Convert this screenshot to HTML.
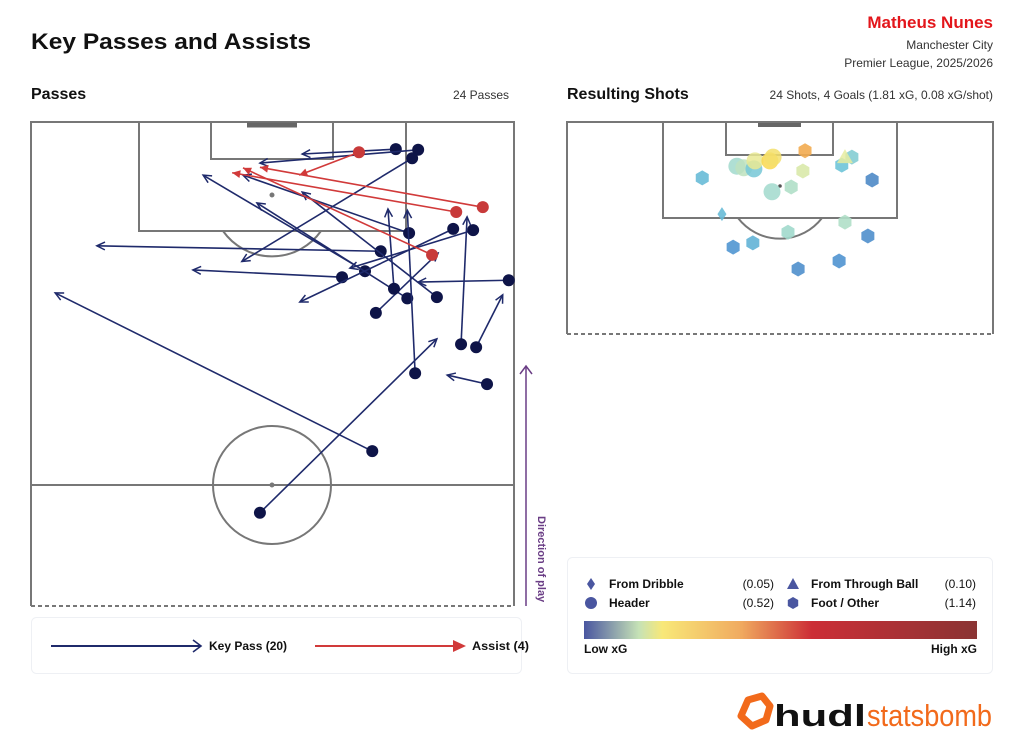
<!DOCTYPE html>
<html><head><meta charset="utf-8"><style>
body{margin:0;background:#fff;}
svg{display:block;font-family:"Liberation Sans",sans-serif;}
</style></head><body>
<svg id="root" width="1024" height="742" viewBox="0 0 1024 742" xmlns="http://www.w3.org/2000/svg">
<text x="31" y="49" font-size="22" font-weight="bold" fill="#111" textLength="280" lengthAdjust="spacingAndGlyphs">Key Passes and Assists</text>
<text x="993" y="28" font-size="17" font-weight="bold" fill="#e3161b" text-anchor="end">Matheus Nunes</text>
<text x="993" y="49" font-size="12" fill="#333" text-anchor="end">Manchester City</text>
<text x="993" y="67" font-size="12" fill="#333" text-anchor="end">Premier League, 2025/2026</text>
<text x="31" y="99" font-size="16" font-weight="bold" fill="#111">Passes</text>
<text x="509" y="99" font-size="12" fill="#333" text-anchor="end">24 Passes</text>
<text x="567" y="99" font-size="16" font-weight="bold" fill="#111">Resulting Shots</text>
<text x="993" y="99" font-size="12" fill="#333" text-anchor="end">24 Shots, 4 Goals (1.81 xG, 0.08 xG/shot)</text>

<g id="passPitch" fill="none" stroke="#777" stroke-width="2">
<path d="M31 606 L31 122 L514 122 L514 606" />
<line x1="31" y1="606" x2="514" y2="606" stroke-dasharray="4 3"/>
<rect x="139" y="122" width="267" height="109"/>
<rect x="211" y="122" width="122" height="37"/>
<line x1="247" y1="125" x2="297" y2="125" stroke="#666" stroke-width="5"/>
<path d="M223 231 A60 60 0 0 0 321 231"/>
<line x1="31" y1="485" x2="514" y2="485"/>
<circle cx="272" cy="485" r="59"/>
<circle cx="272" cy="485" r="1.5" fill="#777"/>
<circle cx="272" cy="195" r="1.5" fill="#777"/>
</g>
<g id="passes"></g>

<g>
<line x1="526" y1="606" x2="526" y2="366" stroke="#6a3d85" stroke-width="1.5"/>
<path d="M520 374 L526 366 L532 374" fill="none" stroke="#6a3d85" stroke-width="1.5"/>
<text transform="translate(538,516) rotate(90)" font-size="11" font-weight="bold" fill="#6a3d85">Direction of play</text>
</g>

<g>
<rect x="31.5" y="617.5" width="490" height="56" rx="5" fill="#fff" stroke="#eef0f4"/>
<line x1="51" y1="646" x2="201" y2="646" stroke="#1f2a6b" stroke-width="2"/>
<path d="M193 640 L201 646 L193 652" fill="none" stroke="#1f2a6b" stroke-width="1.6"/>
<text x="209" y="650" font-size="12" font-weight="bold" fill="#111">Key Pass (20)</text>
<line x1="315" y1="646" x2="458" y2="646" stroke="#d13a3a" stroke-width="2"/>
<path d="M453 640 L466 646 L453 652 Z" fill="#d13a3a"/>
<text x="472" y="650" font-size="12" font-weight="bold" fill="#111" textLength="57" lengthAdjust="spacingAndGlyphs">Assist (4)</text>
</g>

<g id="shotPitch" fill="none" stroke="#777" stroke-width="2">
<path d="M567 334 L567 122 L993 122 L993 334"/>
<line x1="567" y1="334" x2="993" y2="334" stroke-dasharray="4 3"/>
<rect x="663" y="122" width="234" height="96"/>
<rect x="726" y="122" width="107" height="33"/>
<line x1="758" y1="125" x2="801" y2="125" stroke="#666" stroke-width="4"/>
<path d="M738 218 A53 53 0 0 0 822 218"/>
<circle cx="780" cy="186" r="1.8" fill="#555" stroke="none"/>
</g>
<g id="shots"></g>

<g>
<defs><linearGradient id="xg" x1="0" x2="1">
<stop offset="0" stop-color="#4a56a0"/><stop offset="0.14" stop-color="#c6e2b6"/><stop offset="0.2" stop-color="#f8e878"/><stop offset="0.4" stop-color="#f0aa60"/><stop offset="0.58" stop-color="#cc2e36"/><stop offset="1" stop-color="#8a3434"/>
</linearGradient></defs>
<rect x="567.5" y="557.5" width="425" height="116" rx="5" fill="#fff" stroke="#eef0f4"/>
<path d="M591 578 L595 584 L591 590 L587 584 Z" fill="#4a56a0"/>
<text x="609" y="588" font-size="12" font-weight="bold" fill="#111">From Dribble</text>
<text x="774" y="588" font-size="12" fill="#111" text-anchor="end">(0.05)</text>
<path d="M793 578 L799 589 L787 589 Z" fill="#4a56a0"/>
<text x="811" y="588" font-size="12" font-weight="bold" fill="#111">From Through Ball</text>
<text x="976" y="588" font-size="12" fill="#111" text-anchor="end">(0.10)</text>
<circle cx="591" cy="603" r="6" fill="#4a56a0"/>
<text x="609" y="607" font-size="12" font-weight="bold" fill="#111">Header</text>
<text x="774" y="607" font-size="12" fill="#111" text-anchor="end">(0.52)</text>
<path d="M793 597 L798.2 600 L798.2 606 L793 609 L787.8 606 L787.8 600 Z" fill="#4a56a0"/>
<text x="811" y="607" font-size="12" font-weight="bold" fill="#111">Foot / Other</text>
<text x="976" y="607" font-size="12" fill="#111" text-anchor="end">(1.14)</text>
<rect x="584" y="621" width="393" height="18" fill="url(#xg)"/>
<text x="584" y="653" font-size="12" font-weight="bold" fill="#111">Low xG</text>
<text x="977" y="653" font-size="12" font-weight="bold" fill="#111" text-anchor="end">High xG</text>
</g>

<g>
<path d="M748 700 L762 696 L770 706 L766 720 L752 726 L741 716 Z" fill="none" stroke="#f26a1b" stroke-width="7" stroke-linejoin="round"/>
<text x="774" y="726" font-size="31" font-weight="bold" fill="#111" textLength="92" lengthAdjust="spacingAndGlyphs">hudl</text>
<text x="867" y="726" font-size="31" fill="#f26a1b" textLength="125" lengthAdjust="spacingAndGlyphs">statsbomb</text>
</g>
</svg>
<script>
// StatsBomb coordinates: x = length (0-120, attacking up), y = width (0-80)
const kpStartX=[115.5,115.4,114.0,101.6,98.6,94.3,95.3,90.8,91.0,102.3,102.1,93.8,88.4,92.4,83.2,82.7,78.4,55.3,65.5,76.6];
const kpStartY=[60.4,64.1,63.1,62.6,57.9,51.5,55.3,62.3,67.2,69.9,73.2,79.1,57.1,60.1,71.2,73.7,63.6,37.9,56.5,75.5];
const kpEndX=[114.7,113.2,96.9,111.2,99.5,95.5,111.2,106.6,108.4,90.2,95.8,93.5,98.3,105.6,104.3,91.4,105.4,84.1,91.7,78.1];
const kpEndY=[44.9,37.9,34.9,35.1,10.9,26.8,28.5,37.4,44.9,44.5,52.8,64.1,67.4,59.1,72.2,78.1,62.3,67.2,4.0,68.9];
const asStartX=[115.0,105.9,105.1,98.0];
const asStartY=[54.3,74.8,70.4,66.4];
const asEndX=[111.2,112.5,111.6,112.4];
const asEndY=[44.4,37.9,33.3,35.1];

const shotX=[109.5,114.6,111.7,111.4,111.2,112.7,112.7,113.4,106.9,110.8,107.8,111.9,113.4,113.4,109.1,102.7,101.2,99.3,98.6,96.5,97.3,92.4,93.9];
const shotY=[25.4,44.7,31.9,33.2,35.1,35.3,38.1,38.7,38.5,44.3,42.1,51.6,53.5,52.2,57.3,29.1,52.2,41.5,56.5,31.2,34.9,43.4,51.1];
const shotXg=[0.05,0.32,0.09,0.11,0.06,0.15,0.2,0.18,0.09,0.13,0.1,0.055,0.07,0.14,0.02,0.05,0.1,0.09,0.025,0.03,0.045,0.025,0.028];
const shotType=["f","f","h","h","h","h","h","h","h","f","f","f","f","t","f","d","f","f","f","f","f","f","f"];

const NS="http://www.w3.org/2000/svg";
function passPx(x){return 122+(120-x)*6.04;}
function passPy(y){return 31+y*6.04;}
function shotPx(x){return 122+(120-x)*5.325;}
function shotPy(y){return 567+y*5.325;}
function mk(tag,attrs,parent){const e=document.createElementNS(NS,tag);for(const k in attrs)e.setAttribute(k,attrs[k]);parent.appendChild(e);return e;}

const gp=document.getElementById('passes');
function drawPass(sx,sy,ex,ey,assist,i){
  const x1=passPy(sy),y1=passPx(sx),x2=passPy(ey),y2=passPx(ex);
  const col=assist?'#d13a3a':'#1f2a6b';
  const g=mk('g',{},gp);
  
  
  const a=Math.atan2(y2-y1,x2-x1),L=9,w=0.45;
  mk('line',{x1:x1,y1:y1,x2:x2,y2:y2,stroke:col,'stroke-width':1.6},g);
  const p1=[x2-L*Math.cos(a-w),y2-L*Math.sin(a-w)],p2=[x2-L*Math.cos(a+w),y2-L*Math.sin(a+w)];
  if(assist){mk('path',{d:`M${x2} ${y2} L${p1[0]} ${p1[1]} L${p2[0]} ${p2[1]} Z`,fill:col},g);}
  else{mk('path',{d:`M${p1[0]} ${p1[1]} L${x2} ${y2} L${p2[0]} ${p2[1]}`,fill:'none',stroke:col,'stroke-width':1.5},g);}
  mk('circle',{cx:x1,cy:y1,r:6,fill:assist?'#c83a3a':'#0e1448'},g);
}
for(let i=0;i<kpStartX.length;i++)drawPass(kpStartX[i],kpStartY[i],kpEndX[i],kpEndY[i],false,i);
for(let i=0;i<asStartX.length;i++)drawPass(asStartX[i],asStartY[i],asEndX[i],asEndY[i],true,i);

const stops=[[0,[74,110,176]],[0.03,[80,150,210]],[0.055,[110,196,216]],[0.1,[176,223,200]],[0.14,[230,236,160]],[0.2,[249,216,80]],[0.35,[240,160,80]],[0.6,[200,48,58]],[1,[138,52,52]]];
function xgColor(v){for(let i=1;i<stops.length;i++){if(v<=stops[i][0]){const a=stops[i-1],b=stops[i],t=(v-a[0])/(b[0]-a[0]);const c=a[1].map((q,j)=>Math.round(q+(b[1][j]-q)*t));return `rgb(${c})`;}}return 'rgb(138,52,52)';}
const gs=document.getElementById('shots');
for(let i=0;i<shotX.length;i++){
  const cx=shotPy(shotY[i]),cy=shotPx(shotX[i]),col=xgColor(shotXg[i]);let e;
  const t=shotType[i];
  if(t==='h'){e=mk('circle',{cx:cx,cy:cy,r:8.5,fill:col,'fill-opacity':0.85},gs);}
  else if(t==='t'){e=mk('path',{d:`M${cx} ${cy-8} L${cx+8} ${cy+6} L${cx-8} ${cy+6} Z`,fill:col,'fill-opacity':0.85},gs);}
  else if(t==='d'){e=mk('path',{d:`M${cx} ${cy-7} L${cx+4.5} ${cy} L${cx} ${cy+7} L${cx-4.5} ${cy} Z`,fill:col,'fill-opacity':0.9},gs);}
  else{const r=7.5;let d='';for(let k=0;k<6;k++){const an=Math.PI/3*k-Math.PI/2;d+=(k?'L':'M')+(cx+r*Math.cos(an))+' '+(cy+r*Math.sin(an));}e=mk('path',{d:d+'Z',fill:col,'fill-opacity':0.9},gs);}
  
  
}
</script>
</body></html>
